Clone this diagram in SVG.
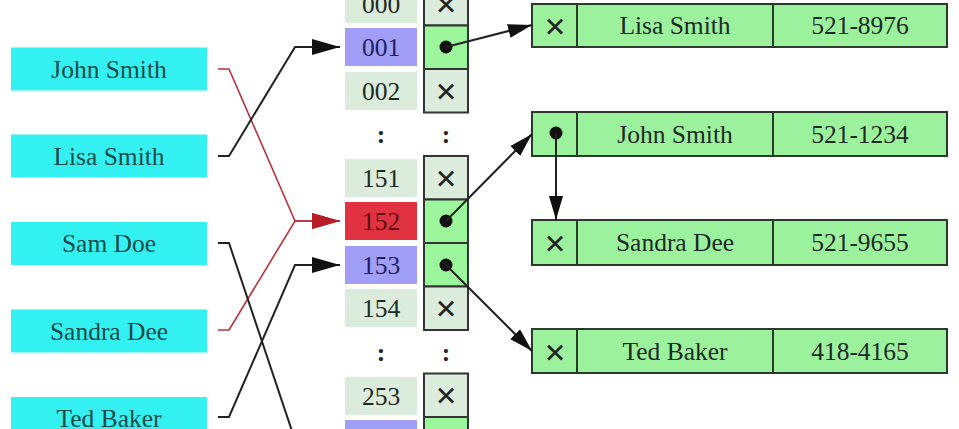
<svg xmlns="http://www.w3.org/2000/svg" width="959" height="429" viewBox="0 0 959 429">
<defs>
<style>
text{font-family:"Liberation Serif","Times New Roman",serif;font-size:25.5px;fill:#1c2a26;text-anchor:middle}
.key rect{fill:#33f1f1}
.key text{fill:#1d4a48}
.idx{fill:#dcecdc}
.hit{fill:#a19ef8}
.col{fill:#e03240}
.cell{stroke:#333;stroke-width:2}
.e{fill:#dcecdc}
.p{fill:#9cf79c}
.rec rect{fill:#9cf29c;stroke:#2a3a2a;stroke-width:2}
.rec line{stroke:#2a3a2a;stroke-width:2}
.x{font-family:"DejaVu Sans",sans-serif;font-size:27px;fill:#222;stroke:#222;stroke-width:0.4}
.dot{fill:#111}
.dots{font-weight:bold;fill:#222}
.lk{fill:none;stroke:#222;stroke-width:2}
.rd{fill:none;stroke:#b8303c;stroke-width:1.6}
</style>
<marker id="ah" markerUnits="userSpaceOnUse" markerWidth="30" markerHeight="18" refX="28" refY="8" orient="auto"><path d="M0,0 L28,8 L0,16 z" fill="#111"/></marker>
<marker id="ahr" markerUnits="userSpaceOnUse" markerWidth="30" markerHeight="18" refX="28" refY="8" orient="auto"><path d="M0,0 L28,8 L0,16 z" fill="#b81c24"/></marker>
<marker id="as" markerUnits="userSpaceOnUse" markerWidth="26" markerHeight="16" refX="24" refY="7" orient="auto"><path d="M0,0 L24,7 L0,14 z" fill="#111"/></marker>
</defs>
<rect width="959" height="429" fill="#fff"/>

<g id="key-john" class="key"><rect x="11" y="47.5" width="196" height="43"/><text x="109" y="77.5">John Smith</text></g>
<g id="key-lisa" class="key"><rect x="11" y="134.5" width="196" height="43"/><text x="109" y="164.5">Lisa Smith</text></g>
<g id="key-sam" class="key"><rect x="11" y="222" width="196" height="43"/><text x="109" y="252">Sam Doe</text></g>
<g id="key-sandra" class="key"><rect x="11" y="309.5" width="196" height="43"/><text x="109" y="339.5">Sandra Dee</text></g>
<g id="key-ted" class="key"><rect x="11" y="397" width="196" height="43"/><text x="109" y="427">Ted Baker</text></g>

<g id="idx-000"><rect class="idx" x="345" y="-15" width="72" height="38"/><text x="381" y="12.5">000</text></g>
<g id="idx-001"><rect class="hit" x="345" y="28" width="72" height="38"/><text x="381" y="55.5" style="fill:#1e2060">001</text></g>
<g id="idx-002"><rect class="idx" x="345" y="72" width="72" height="38"/><text x="381" y="99.5">002</text></g>
<g id="idx-151"><rect class="idx" x="345" y="159" width="72" height="38"/><text x="381" y="186.5">151</text></g>
<g id="idx-152"><rect class="col" x="345" y="202" width="72" height="38"/><text x="381" y="229.5" style="fill:#5a1015">152</text></g>
<g id="idx-153"><rect class="hit" x="345" y="246" width="72" height="38"/><text x="381" y="273.5" style="fill:#1e2060">153</text></g>
<g id="idx-154"><rect class="idx" x="345" y="289" width="72" height="38"/><text x="381" y="316.5">154</text></g>
<g id="idx-253"><rect class="idx" x="345" y="377" width="72" height="38"/><text x="381" y="404.5">253</text></g>
<g id="idx-254"><rect class="hit" x="345" y="420" width="72" height="38"/></g>
<g id="gap-dots"><text class="dots" x="381" y="143">:</text><text class="dots" x="446" y="143">:</text><text class="dots" x="381" y="361">:</text><text class="dots" x="446" y="361">:</text></g>

<g id="buckets">
<rect class="cell e" x="424" y="-18" width="44" height="43.5"/><text class="x" x="446" y="13">×</text>
<rect class="cell p" x="424" y="25.5" width="44" height="43.5"/><circle class="dot" cx="446" cy="47" r="6.5"/>
<rect class="cell e" x="424" y="69" width="44" height="43.5"/><text class="x" x="446" y="100">×</text>
<rect class="cell e" x="424" y="156" width="44" height="43.5"/><text class="x" x="446" y="187">×</text>
<rect class="cell p" x="424" y="199.5" width="44" height="43.5"/><circle class="dot" cx="446" cy="221" r="6.5"/>
<rect class="cell p" x="424" y="243" width="44" height="43.5"/><circle class="dot" cx="446" cy="265" r="6.5"/>
<rect class="cell e" x="424" y="286.5" width="44" height="43.5"/><text class="x" x="446" y="317">×</text>
<rect class="cell e" x="424" y="373.5" width="44" height="43.5"/><text class="x" x="446" y="404">×</text>
<rect class="cell p" x="424" y="417" width="44" height="43.5"/>
</g>

<g id="rec-lisa" class="rec"><rect x="532" y="4" width="415" height="43"/><line x1="577" y1="4" x2="577" y2="47"/><line x1="773" y1="4" x2="773" y2="47"/><text class="x" x="555" y="35">×</text><text x="675" y="34">Lisa Smith</text><text x="860" y="34">521-8976</text></g>
<g id="rec-john" class="rec"><rect x="532" y="112" width="415" height="44"/><line x1="577" y1="112" x2="577" y2="156"/><line x1="773" y1="112" x2="773" y2="156"/><circle class="dot" cx="556" cy="133" r="6.5"/><text x="675" y="142.5">John Smith</text><text x="860" y="142.5">521-1234</text></g>
<g id="rec-sandra" class="rec"><rect x="532" y="220" width="415" height="45"/><line x1="577" y1="220" x2="577" y2="265"/><line x1="773" y1="220" x2="773" y2="265"/><text class="x" x="555" y="252">×</text><text x="675" y="251">Sandra Dee</text><text x="860" y="251">521-9655</text></g>
<g id="rec-ted" class="rec"><rect x="532" y="329" width="415" height="44"/><line x1="577" y1="329" x2="577" y2="373"/><line x1="773" y1="329" x2="773" y2="373"/><text class="x" x="555" y="360.5">×</text><text x="675" y="359.5">Ted Baker</text><text x="860" y="359.5">418-4165</text></g>

<g id="connectors">
<polyline class="rd" points="218,69 229,69 295,221 340,221" marker-end="url(#ahr)"/>
<polyline class="rd" points="218,330 229,330 295,221 340,221" marker-end="url(#ahr)"/>
<polyline class="lk" points="218,156 229,156 295,47 340,47" marker-end="url(#ah)"/>
<polyline class="lk" points="218,243 229,243 295,440 340,440" marker-end="url(#ah)"/>
<polyline class="lk" points="218,417 229,417 295,265 340,265" marker-end="url(#ah)"/>
<line class="lk" x1="446" y1="47" x2="532" y2="25" marker-end="url(#as)"/>
<line class="lk" x1="446" y1="221" x2="532" y2="134" marker-end="url(#as)"/>
<line class="lk" x1="446" y1="265" x2="532" y2="351" marker-end="url(#as)"/>
<line class="lk" x1="556" y1="133" x2="556" y2="220" marker-end="url(#as)"/>
</g>
</svg>
